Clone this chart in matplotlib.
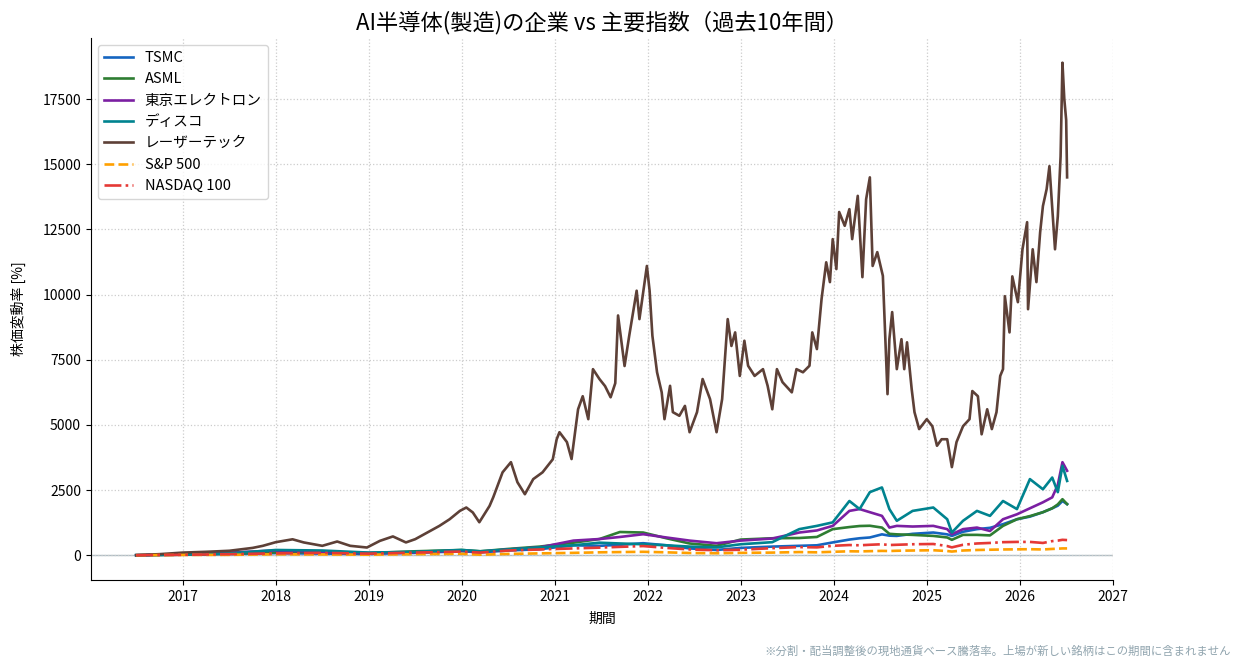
import pandas as pd
import matplotlib
matplotlib.use("Agg")
import matplotlib.pyplot as plt
import matplotlib.dates as mdates

plt.rcParams['font.family'] = ['Noto Sans CJK JP', 'DejaVu Sans']

# values (decimal year -> % change)
LT_YEARS = [2016.50, 2016.75, 2017.00, 2017.25, 2017.50, 2017.75, 2017.86, 2018.00, 2018.18, 2018.30,
            2018.50, 2018.66, 2018.80, 2018.98, 2019.12, 2019.26, 2019.40, 2019.50, 2019.63, 2019.76,
            2019.87, 2019.98, 2020.05, 2020.12, 2020.19, 2020.30, 2020.34, 2020.44, 2020.53, 2020.60,
            2020.68, 2020.77, 2020.87, 2020.98, 2021.02, 2021.05, 2021.13, 2021.18, 2021.25, 2021.30,
            2021.36, 2021.41, 2021.48, 2021.54, 2021.60, 2021.65, 2021.68, 2021.75, 2021.80, 2021.88,
            2021.91, 2021.99, 2022.02, 2022.05, 2022.10, 2022.15, 2022.18, 2022.24, 2022.27, 2022.34,
            2022.40, 2022.45, 2022.53, 2022.59, 2022.67, 2022.74, 2022.80, 2022.86, 2022.90, 2022.94,
            2022.99, 2023.04, 2023.08, 2023.15, 2023.24, 2023.29, 2023.34, 2023.39, 2023.45, 2023.55,
            2023.60, 2023.67, 2023.74, 2023.77, 2023.82, 2023.87, 2023.92, 2023.96, 2023.99, 2024.03,
            2024.06, 2024.12, 2024.17, 2024.20, 2024.26, 2024.31, 2024.35, 2024.39, 2024.42, 2024.47,
            2024.53, 2024.58, 2024.60, 2024.63, 2024.68, 2024.73, 2024.76, 2024.79, 2024.84, 2024.87,
            2024.92, 2025.00, 2025.06, 2025.11, 2025.16, 2025.22, 2025.27, 2025.32, 2025.39, 2025.46,
            2025.49, 2025.55, 2025.59, 2025.65, 2025.70, 2025.75, 2025.79, 2025.82, 2025.84, 2025.89,
            2025.92, 2025.98, 2026.03, 2026.08, 2026.09, 2026.14, 2026.18, 2026.22, 2026.25, 2026.29,
            2026.32, 2026.38, 2026.41, 2026.44, 2026.46, 2026.48, 2026.50, 2026.51]
LT_VALUES = [0, 40, 100, 130, 170, 280, 360, 500, 610, 490,
             360, 525, 360, 295, 550, 720, 490, 615, 870, 1125,
             1380, 1700, 1830, 1640, 1265, 1890, 2225, 3180, 3570, 2800,
             2340, 2920, 3180, 3680, 4450, 4720, 4340, 3690, 5600, 6100,
             5220, 7140, 6760, 6490, 6060, 6600, 9200, 7260, 8420, 10150,
             9060, 11100, 10150, 8420, 7020, 6250, 5220, 6500, 5490, 5350,
             5730, 4720, 5490, 6760, 5990, 4720, 5990, 9060, 8030, 8550,
             6880, 8230, 7270, 6880, 7140, 6500, 5600, 7140, 6640, 6250,
             7140, 7020, 7270, 8550, 7910, 9830, 11240, 10480, 12130, 10980,
             13170, 12640, 13280, 12130, 13790, 10670, 13660, 14500, 11100, 11630,
             10720, 6180, 8290, 9330, 7140, 8290, 7140, 8170, 6370, 5490,
             4840, 5220, 4950, 4200, 4450, 4450, 3380, 4340, 4950, 5220,
             6300, 6100, 4640, 5600, 4840, 5490, 6880, 7140, 9940, 8550,
             10700, 9710, 11740, 12780, 9440, 11740, 10480, 12390, 13400, 14050,
             14930, 11740, 13000, 15300, 18900, 17500, 16700, 14500]

YEARS = [2016.5, 2017.0, 2017.5, 2018.0, 2018.5, 2019.0, 2019.5, 2020.0, 2020.2, 2020.5,
         2020.84, 2021.2, 2021.48, 2021.7, 2021.95, 2022.2, 2022.45, 2022.74, 2023.0, 2023.34,
         2023.63, 2023.82, 2023.99, 2024.17, 2024.28, 2024.39, 2024.52, 2024.6, 2024.68, 2024.85,
         2025.07, 2025.22, 2025.27, 2025.39, 2025.54, 2025.68, 2025.82, 2025.97, 2026.11, 2026.25,
         2026.35, 2026.41, 2026.46, 2026.51]
TSMC = [0, 20, 50, 80, 60, 50, 90, 150, 110, 180,
        230, 380, 360, 400, 460, 380, 260, 200, 280, 330,
        360, 380, 490, 600, 650, 680, 800, 750, 740, 820,
        870, 800, 740, 900, 1000, 1050, 1190, 1380, 1480, 1650,
        1800, 1900, 2080, 1960]
ASML = [0, 20, 60, 110, 120, 80, 150, 200, 150, 240,
        330, 480, 620, 890, 870, 650, 450, 360, 600, 650,
        660, 700, 1000, 1080, 1120, 1130, 1060, 820, 800, 780,
        740, 680, 590, 780, 780, 760, 1125, 1380, 1500, 1650,
        1800, 1950, 2150, 1960]
TEL = [0, 40, 100, 180, 130, 80, 110, 180, 130, 220,
       300, 560, 620, 700, 805, 680, 560, 460, 560, 640,
       870, 950, 1125, 1700, 1770, 1650, 1510, 1060, 1125, 1100,
       1125, 1000, 805, 1000, 1060, 930, 1380, 1570, 1800, 2030,
       2220, 2700, 3570, 3240]
DISCO = [0, 30, 70, 200, 180, 100, 130, 200, 150, 220,
         300, 380, 480, 450, 420, 380, 330, 300, 420, 500,
         1000, 1125, 1260, 2080, 1770, 2420, 2600, 1770, 1320, 1700,
         1830, 1380, 870, 1320, 1700, 1510, 2080, 1770, 2920, 2530,
         2980, 2420, 3430, 2850]
SP500 = [0, 10, 15, 35, 30, 20, 40, 55, 20, 50,
         70, 90, 110, 120, 130, 110, 85, 75, 90, 100,
         120, 110, 130, 150, 145, 155, 165, 160, 170, 180,
         190, 160, 140, 180, 200, 210, 220, 225, 230, 220,
         240, 250, 260, 260]
NDX = [0, 15, 40, 70, 90, 60, 100, 140, 100, 180,
       220, 260, 290, 320, 350, 280, 220, 190, 210, 270,
       310, 300, 360, 390, 380, 400, 420, 390, 400, 420,
       430, 350, 300, 400, 450, 470, 500, 510, 510, 470,
       540, 560, 590, 580]


def to_dates(years):
    out = []
    for y in years:
        base = pd.Timestamp(f"{int(y)}-01-01")
        out.append(base + pd.Timedelta(days=(y - int(y)) * 365.25))
    return out


d = to_dates(YEARS)
lt_d = to_dates(LT_YEARS)

fig, ax = plt.subplots(figsize=(12.43, 6.68), dpi=100)
fig.subplots_adjust(left=0.073, right=0.8955, top=0.943, bottom=0.132)

lw = 1.9
ax.plot(d, TSMC, color='#1565C0', lw=lw, label='TSMC')
ax.plot(d, ASML, color='#2E7D32', lw=lw, label='ASML')
ax.plot(d, TEL, color='#7B1FA2', lw=lw, label='東京エレクトロン')
ax.plot(d, DISCO, color='#00838F', lw=lw, label='ディスコ')
ax.plot(lt_d, LT_VALUES, color='#5D4037', lw=lw, label='レーザーテック')
ax.plot(d, SP500, color='#FFA000', lw=lw, ls='--', label='S&P 500')
ax.plot(d, NDX, color='#E53935', lw=lw, ls='-.', label='NASDAQ 100')

ax.axhline(0, color='#B0BEC5', lw=1, zorder=0)
ax.grid(True, ls=':', color='#cccccc', lw=0.9)
ax.spines['top'].set_visible(False)
ax.spines['right'].set_visible(False)

ax.xaxis.set_major_locator(mdates.YearLocator())
ax.xaxis.set_major_formatter(mdates.DateFormatter('%Y'))
ax.set_xlim(pd.Timestamp('2016-01-05'), pd.Timestamp('2027-01-03'))
ax.tick_params(labelsize=10)

ax.set_title('AI半導体(製造)の企業 vs 主要指数（過去10年間）', fontsize=16)
ax.set_xlabel('期間', fontsize=10, labelpad=6)
ax.set_ylabel('株価変動率 [%]', fontsize=10, labelpad=12)
ax.legend(loc='upper left', fontsize=10.5)

fig.text(0.99, 0.025, '※分割・配当調整後の現地通貨ベース騰落率。上場が新しい銘柄はこの期間に含まれません',
         ha='right', va='center', fontsize=8.2, color='#90A4AE')

fig.savefig('out.png', dpi=100)
